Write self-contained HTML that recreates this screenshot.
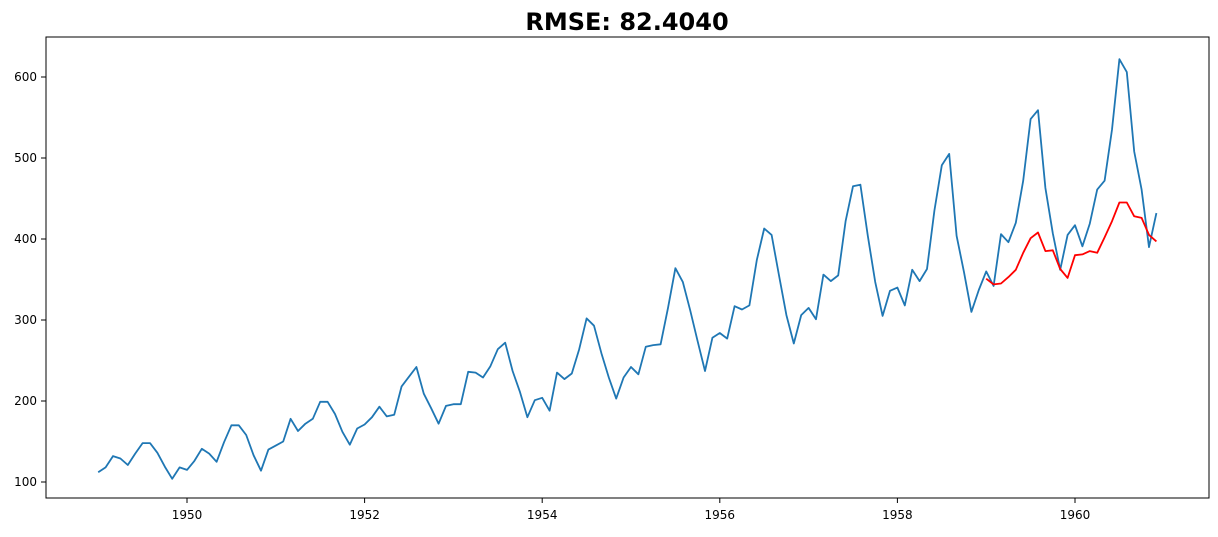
<!DOCTYPE html>
<html><head><meta charset="utf-8"><style>
body{margin:0;background:#fff;font-family:"DejaVu Sans","Liberation Sans",sans-serif;}
svg text{font-family:"DejaVu Sans","Liberation Sans",sans-serif;}
</style></head><body>
<svg id="chart" width="1218" height="533" xmlns="http://www.w3.org/2000/svg">
<text x="627" y="30" text-anchor="middle" font-size="24" font-weight="bold">RMSE: 82.4040</text>
<rect x="46" y="37" width="1163" height="461" fill="none" stroke="#000" stroke-width="1"/>
<g id="ticks"></g>
<g id="series"></g>
</svg>
<script>
const actual = [112,118,132,129,121,135,148,148,136,119,104,118,
115,126,141,135,125,149,170,170,158,133,114,140,
145,150,178,163,172,178,199,199,184,162,146,166,
171,180,193,181,183,218,230,242,209,191,172,194,
196,196,236,235,229,243,264,272,237,211,180,201,
204,188,235,227,234,264,302,293,259,229,203,229,
242,233,267,269,270,315,364,347,312,274,237,278,
284,277,317,313,318,374,413,405,355,306,271,306,
315,301,356,348,355,422,465,467,404,347,305,336,
340,318,362,348,363,435,491,505,404,359,310,337,
360,342,406,396,420,472,548,559,463,407,362,405,
417,391,419,461,472,535,622,606,508,461,390,432];
const forecast = [351,344,345,353,362,383,401,408,385,386,363,352,380,381,385,383,402,422,445,445,428,426,405,397];
const startYear = 1949;
const forecastStartYear = 1959;
const xTicks = [1950,1952,1954,1956,1958,1960];
const yTicks = [100,200,300,400,500,600];

const NS="http://www.w3.org/2000/svg";
function xs(t){return 187+(t-1950)*88.8;}
function ys(v){return 482-(v-100)*0.81;}
const tg=document.getElementById('ticks');
xTicks.forEach(t=>{
  const l=document.createElementNS(NS,'line');
  
  
  l.setAttribute('x1',xs(t));l.setAttribute('x2',xs(t));l.setAttribute('y1',498);l.setAttribute('y2',503);l.setAttribute('stroke','#000');
  tg.appendChild(l);
  const tx=document.createElementNS(NS,'text');
  
  
  tx.setAttribute('x',xs(t));tx.setAttribute('y',519);tx.setAttribute('text-anchor','middle');tx.setAttribute('font-size','12');
  tx.textContent=t;tg.appendChild(tx);
});
yTicks.forEach(v=>{
  const l=document.createElementNS(NS,'line');
  
  
  l.setAttribute('x1',41);l.setAttribute('x2',46);l.setAttribute('y1',ys(v));l.setAttribute('y2',ys(v));l.setAttribute('stroke','#000');
  tg.appendChild(l);
  const tx=document.createElementNS(NS,'text');
  
  
  tx.setAttribute('x',37);tx.setAttribute('y',ys(v)+4);tx.setAttribute('text-anchor','end');tx.setAttribute('font-size','12');
  tx.textContent=v;tg.appendChild(tx);
});
const sg=document.getElementById('series');
function line(arr,y0,color,name){
  const p=document.createElementNS(NS,'polyline');
  
  
  p.setAttribute('points',arr.map((v,i)=>xs(y0+i/12).toFixed(1)+','+ys(v).toFixed(1)).join(' '));
  p.setAttribute('fill','none');p.setAttribute('stroke',color);p.setAttribute('stroke-width','1.8');p.setAttribute('stroke-linejoin','round');
  sg.appendChild(p);
}
line(actual,startYear,'#1f77b4','actual-line');
line(forecast,forecastStartYear,'#ff0000','forecast-line');
</script>
</body></html>
